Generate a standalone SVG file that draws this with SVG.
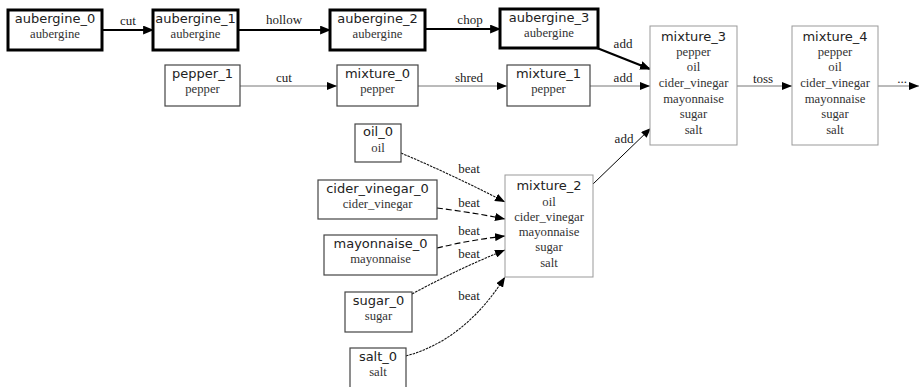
<svg xmlns="http://www.w3.org/2000/svg" width="920" height="387" viewBox="0 0 920 387">
<defs>
<marker id="ah" viewBox="0 0 10 8" refX="10" refY="4" markerWidth="10" markerHeight="8" markerUnits="userSpaceOnUse" orient="auto"><path d="M0,0 L10,4 L0,8 Z" fill="#000"/></marker>
<marker id="ahb" viewBox="0 0 10 8" refX="9" refY="4" markerWidth="11" markerHeight="9" markerUnits="userSpaceOnUse" orient="auto"><path d="M0,0 L10,4 L0,8 Z" fill="#000"/></marker>
<style>
rect{fill:#fff}
.thick{stroke:#000;stroke-width:3}
.mid{stroke:#444;stroke-width:1.2}
.light{stroke:#999;stroke-width:1}
.t{font-family:"DejaVu Sans",sans-serif;font-size:13px;fill:#222;text-anchor:middle}
.s{font-family:"Liberation Serif",serif;font-size:12.7px;fill:#333;text-anchor:middle}
.el{font-family:"Liberation Serif",serif;font-size:13px;fill:#222;text-anchor:middle}
.e{fill:none}
.eb{stroke:#000;stroke-width:2.2}
.eg{stroke:#777;stroke-width:1}
.ek{stroke:#000;stroke-width:1}
.dot{stroke:#111;stroke-width:1.1;stroke-dasharray:2.5,1}
.dash{stroke:#000;stroke-width:1.1;stroke-dasharray:6,3}
</style>
</defs>
<g id="connectors">
<path class="e eb" d="M102,30 L153,30" marker-end="url(#ahb)"/>
<path class="e eb" d="M238,30 L330,30" marker-end="url(#ahb)"/>
<path class="e eb" d="M425,29 L500,29" marker-end="url(#ahb)"/>
<path class="e eb" d="M597,48 L650,69" marker-end="url(#ahb)"/>
<path class="e eg" d="M240,86 L337,86" marker-end="url(#ah)"/>
<path class="e eg" d="M418,86 L507,86" marker-end="url(#ah)"/>
<path class="e eg" d="M590,86 L650,86" marker-end="url(#ah)"/>
<path class="e ek" d="M593,184 L651,128" marker-end="url(#ah)"/>
<path class="e eg" d="M737,86 L792,86" marker-end="url(#ah)"/>
<path class="e eg" d="M878,86 L919,86" marker-end="url(#ah)"/>
<path class="e dot" d="M401,153 Q455,176 505,202" marker-end="url(#ah)"/>
<path class="e dash" d="M437,208 Q470,212 505,219" marker-end="url(#ah)"/>
<path class="e dash" d="M437,248 Q470,240 505,236" marker-end="url(#ah)"/>
<path class="e dot" d="M412,294 Q460,268 505,250" marker-end="url(#ah)"/>
<path class="e dot" d="M406,356 Q465,340 505,277" marker-end="url(#ah)"/>
<text class="el" x="128" y="25">cut</text>
<text class="el" x="284" y="24">hollow</text>
<text class="el" x="470" y="24">chop</text>
<text class="el" x="623" y="48">add</text>
<text class="el" x="284" y="82">cut</text>
<text class="el" x="469" y="82">shred</text>
<text class="el" x="623" y="82">add</text>
<text class="el" x="763" y="83">toss</text>
<text class="el" x="902" y="83">...</text>
<text class="el" x="624" y="143">add</text>
<text class="el" x="469" y="173">beat</text>
<text class="el" x="469" y="207">beat</text>
<text class="el" x="469" y="235">beat</text>
<text class="el" x="469" y="258">beat</text>
<text class="el" x="469" y="300">beat</text>
</g>
<g id="aubergine_0"><rect class="thick" x="8" y="10" width="94" height="40"/><text class="t" x="55" y="23">aubergine_0</text><text class="s" x="55" y="38">aubergine</text></g>
<g id="aubergine_1"><rect class="thick" x="153" y="10" width="85" height="40"/><text class="t" x="195.5" y="23">aubergine_1</text><text class="s" x="195.5" y="38">aubergine</text></g>
<g id="aubergine_2"><rect class="thick" x="330" y="10" width="95" height="40"/><text class="t" x="377.5" y="23">aubergine_2</text><text class="s" x="377.5" y="38">aubergine</text></g>
<g id="aubergine_3"><rect class="thick" x="500" y="9" width="98" height="39"/><text class="t" x="549" y="22">aubergine_3</text><text class="s" x="549" y="37">aubergine</text></g>
<g id="pepper_1"><rect class="mid" x="165" y="65" width="75" height="41"/><text class="t" x="202.5" y="78">pepper_1</text><text class="s" x="202.5" y="93">pepper</text></g>
<g id="mixture_0"><rect class="mid" x="337" y="65" width="81" height="41"/><text class="t" x="377.5" y="78">mixture_0</text><text class="s" x="377.5" y="93">pepper</text></g>
<g id="mixture_1"><rect class="mid" x="507" y="65" width="83" height="41"/><text class="t" x="548.5" y="78">mixture_1</text><text class="s" x="548.5" y="93">pepper</text></g>
<g id="mixture_3"><rect class="light" x="650" y="26" width="87" height="119"/><text class="t" x="693.5" y="41">mixture_3</text><text class="s" x="693.5" y="56">pepper</text><text class="s" x="693.5" y="71">oil</text><text class="s" x="693.5" y="87">cider_vinegar</text><text class="s" x="693.5" y="103">mayonnaise</text><text class="s" x="693.5" y="118">sugar</text><text class="s" x="693.5" y="134">salt</text></g>
<g id="mixture_4"><rect class="light" x="792" y="26" width="86" height="119"/><text class="t" x="835" y="41">mixture_4</text><text class="s" x="835" y="56">pepper</text><text class="s" x="835" y="71">oil</text><text class="s" x="835" y="87">cider_vinegar</text><text class="s" x="835" y="103">mayonnaise</text><text class="s" x="835" y="118">sugar</text><text class="s" x="835" y="134">salt</text></g>
<g id="oil_0"><rect class="mid" x="355" y="124" width="46" height="38"/><text class="t" x="378" y="136">oil_0</text><text class="s" x="378" y="152">oil</text></g>
<g id="cider_vinegar_0"><rect class="mid" x="318" y="180" width="119" height="39"/><text class="t" x="377.5" y="193">cider_vinegar_0</text><text class="s" x="377.5" y="208">cider_vinegar</text></g>
<g id="mayonnaise_0"><rect class="mid" x="324" y="235" width="113" height="40"/><text class="t" x="380.5" y="248">mayonnaise_0</text><text class="s" x="380.5" y="263">mayonnaise</text></g>
<g id="sugar_0"><rect class="mid" x="345" y="292" width="67" height="40"/><text class="t" x="378.5" y="305">sugar_0</text><text class="s" x="378.5" y="320">sugar</text></g>
<g id="salt_0"><rect class="mid" x="350" y="348" width="56" height="40"/><text class="t" x="378" y="361">salt_0</text><text class="s" x="378" y="376">salt</text></g>
<g id="mixture_2"><rect class="light" x="505" y="175" width="88" height="102"/><text class="t" x="549" y="190">mixture_2</text><text class="s" x="549" y="206">oil</text><text class="s" x="549" y="221">cider_vinegar</text><text class="s" x="549" y="236">mayonnaise</text><text class="s" x="549" y="251">sugar</text><text class="s" x="549" y="267">salt</text></g>
</svg>
